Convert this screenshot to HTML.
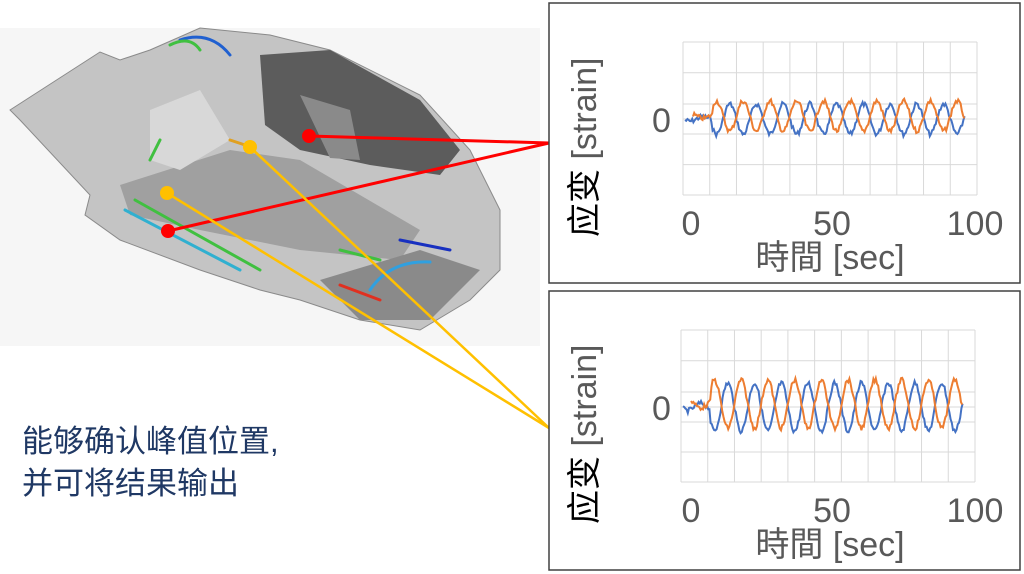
<!DOCTYPE html>
<html><head><meta charset="utf-8"><style>
html,body{margin:0;padding:0;background:#fff;width:1024px;height:574px;overflow:hidden}
svg{display:block}
text{font-family:"Liberation Sans","Noto Sans CJK SC",sans-serif}
</style></head><body>
<svg id="s" width="1024" height="574" viewBox="0 0 1024 574" xmlns="http://www.w3.org/2000/svg">
<rect x="0" y="28" width="540" height="318" fill="#f6f6f6"/>
<g fill="#c4c4c4" stroke="#8a8a8a" stroke-width="1">
<path d="M10,110 L100,52 L120,60 L150,50 L200,28 L270,35 L330,50 L420,95 L470,150 L500,210 L500,270 L470,300 L420,330 L360,320 L300,300 L260,290 L200,270 L120,240 L85,215 L90,195 L20,120 Z"/>
</g>
<path d="M260,55 L330,50 L420,100 L460,150 L440,175 L370,165 L300,150 L265,125 Z" fill="#5c5c5c"/>
<path d="M300,95 L350,110 L360,160 L330,158 Z" fill="#8a8a8a"/>
<path d="M120,185 L230,150 L300,160 L420,230 L400,260 L300,250 L200,230 L130,215 Z" fill="#a0a0a0"/>
<path d="M150,110 L200,90 L230,140 L180,170 L150,160 Z" fill="#d8d8d8"/>
<path d="M320,280 L420,250 L480,270 L430,320 L360,320 Z" fill="#8a8a8a"/>
<g fill="none" stroke-width="3" stroke-linecap="round">
<path d="M180,40 Q210,30 230,55" stroke="#2060d0"/>
<path d="M170,45 Q190,35 200,50" stroke="#40c040"/>
<path d="M125,210 L240,270" stroke="#30b0d0"/>
<path d="M135,200 L260,270" stroke="#40c040"/>
<path d="M370,290 Q390,260 430,262" stroke="#30a0e0"/>
<path d="M380,300 L340,285" stroke="#e03020"/>
<path d="M400,240 L450,250" stroke="#1830c0"/>
<path d="M150,160 L160,140" stroke="#40c040"/>
<path d="M230,140 L245,145" stroke="#e0a020"/>
<path d="M340,250 L380,260" stroke="#40c040"/>
</g>
<g stroke="#ff0000" stroke-width="3"><line x1="309" y1="136" x2="549" y2="143"/><line x1="168" y1="231" x2="549" y2="143"/></g>
<g stroke="#ffc000" stroke-width="2.5"><line x1="250" y1="147" x2="549" y2="428"/><line x1="167" y1="193" x2="549" y2="428"/></g>
<circle cx="309" cy="136" r="7" fill="#ff0000"/><circle cx="168" cy="231" r="7" fill="#ff0000"/>
<circle cx="250" cy="147" r="7" fill="#ffc000"/><circle cx="167" cy="193" r="7" fill="#ffc000"/>
<text x="22" y="452" font-size="31" fill="#1f3864">能够确认峰值位置,</text>
<text x="22" y="494" font-size="31" fill="#1f3864">并可将结果输出</text>
<g id="c1"></g><g id="c2"></g>
</svg>
<script>
var NS="http://www.w3.org/2000/svg";
function el(p,t,a,txt){var e=document.createElementNS(NS,t);for(var k in a)e.setAttribute(k,a[k]);if(txt)e.textContent=txt;p.appendChild(e);return e;}
var seed=7;function rnd(){seed=(seed*9301+49297)%233280;return seed/233280;}
function chart(g,by,px0,px1,py0,py1,zero,amp,phase,start){
 el(g,'rect',{x:549,y:by,width:471,height:by==3?280:279,fill:'#fff',stroke:'#404040','stroke-width':1.5});
 var w=(px1-px0)/11;
 for(var i=0;i<=11;i++)el(g,'line',{x1:px0+i*w,y1:py0,x2:px0+i*w,y2:py1,stroke:'#d9d9d9','stroke-width':1});
 var hs=[py0,py0+(zero-py0)*0.4,zero-15,zero,zero+15,py1-(py1-zero)*0.4,py1];
 hs.forEach(function(y){el(g,'line',{x1:px0,y1:y,x2:px1,y2:y,stroke:'#d9d9d9','stroke-width':1});});
 var cols=['#4472c4','#ed7d31'];
 for(var c=0;c<2;c++){var d='';var xs=px0+2+(c?8:0);
  for(var x=xs;x<=px1-12;x+=1.2){var t=(x-px0)/(px1-px0);var a=t<start?0.15:1;
   var y=zero+(c?-1:1)*(a*amp*Math.sin((x-px0)*phase))+(rnd()-0.5)*5+(c?-3:0);
   d+=(d?'L':'M')+x.toFixed(1)+','+y.toFixed(1);}
  el(g,'path',{d:d,fill:'none',stroke:cols[c],'stroke-width':2});}
 el(g,'text',{x:652,y:zero+13,'font-size':34,fill:'#595959'},'0');
 el(g,'text',{x:691,y:py1+40,'font-size':34,fill:'#595959','text-anchor':'middle'},'0');
 el(g,'text',{x:832,y:py1+40,'font-size':34,fill:'#595959','text-anchor':'middle'},'50');
 el(g,'text',{x:975,y:py1+40,'font-size':34,fill:'#595959','text-anchor':'middle'},'100');
 el(g,'text',{x:830,y:py1+74,'font-size':34,fill:'#595959','text-anchor':'middle'},'時間 [sec]');
 var t=el(g,'text',{transform:'translate(596,'+(py1+42)+') rotate(-90)','font-size':34,fill:'#595959'});
 el(t,'tspan',{fill:'#000'},'应变 ');el(t,'tspan',{},'[strain]');
}
chart(document.getElementById('c1'),3,683,977,42,195,119,15,0.235,0.1);
chart(document.getElementById('c2'),291,681,975,330,482,407,24,0.235,0.1);
</script>
</body></html>
